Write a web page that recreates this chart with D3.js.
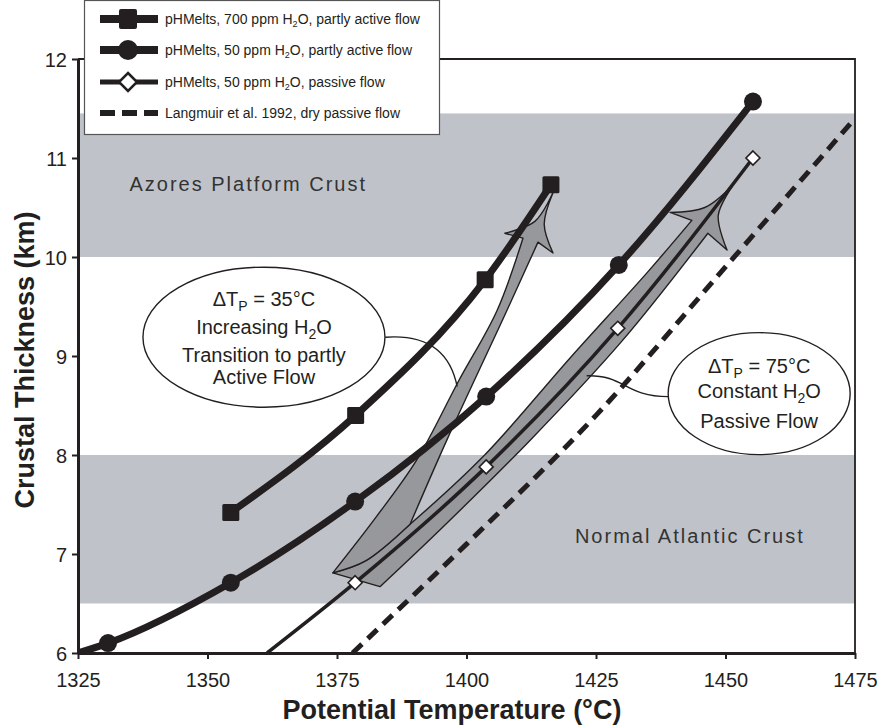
<!DOCTYPE html>
<html><head><meta charset="utf-8">
<script src="https://cdn.jsdelivr.net/npm/d3@7"></script>
<style>body{margin:0;background:#fff} svg{display:block}</style>
</head><body><svg id="c" width="880" height="728"></svg>
<script>
// ---------- data ----------
const xTicks = [1325, 1350, 1375, 1400, 1425, 1450, 1475];
const yTicks = [6, 7, 8, 9, 10, 11, 12];
// pHMelts 700 ppm H2O, partly active flow (squares)
const s700T = [1354.5, 1378.6, 1403.6, 1416.3];
const s700V = [7.42, 8.40, 9.77, 10.73];
// pHMelts 50 ppm H2O, partly active flow (circles) - first point is curve start, no marker
const s50aT = [1325, 1330.8, 1354.5, 1378.5, 1403.8, 1429.4, 1455.3];
const s50aV = [6.00, 6.10, 6.71, 7.53, 8.59, 9.92, 11.57];
// pHMelts 50 ppm H2O, passive flow (open diamonds) - first point is curve start, no marker
const s50pT = [1361.5, 1378.5, 1403.8, 1429.2, 1455.3];
const s50pV = [6.00, 6.71, 7.88, 9.28, 11.00];
// Langmuir et al. 1992, dry passive flow (dashed)
const langT = [1378, 1400, 1425, 1450, 1475];
const langV = [6.0, 7.1, 8.4, 9.9, 11.4];
// crust bands
const bandLo = [10, 6.5];
const bandHi = [11.45, 8];
const bandLabels = ["Azores Platform Crust", "Normal Atlantic Crust"];
const legendLabels = [
  ["pHMelts, 700 ppm H", "2", "O, partly active flow"],
  ["pHMelts, 50 ppm H", "2", "O, partly active flow"],
  ["pHMelts, 50 ppm H", "2", "O, passive flow"],
  ["Langmuir et al. 1992, dry passive flow", "", ""]
];

// ---------- setup ----------
const svg = d3.select("#c");
const L = 78, R = 855, T = 59, B = 653;
const x = d3.scaleLinear([1325, 1475], [L, R]);
const y = d3.scaleLinear([6, 12], [B, T]);
const FONT = "'Liberation Sans', Arial, Helvetica, sans-serif";
const INK = "#231f20";
const BAND = "#bfc3c9";
const ARROW = "#97989b";

svg.append("defs").append("clipPath").attr("id", "plot")
  .append("rect").attr("x", L).attr("y", T).attr("width", R - L).attr("height", B - T);

// bands
svg.append("g").selectAll("rect").data(bandLo).join("rect")
  .attr("x", L).attr("width", R - L)
  .attr("y", (d, i) => y(bandHi[i]))
  .attr("height", (d, i) => y(d) - y(bandHi[i]))
  .attr("fill", BAND);

// band labels
svg.append("text").attr("x", x(1380.8)).attr("y", y(10.67))
  .attr("text-anchor", "end").attr("font-family", FONT).attr("font-size", 20)
  .attr("letter-spacing", 2).attr("fill", "#333").text(bandLabels[0]);
svg.append("text").attr("x", x(1465.3)).attr("y", y(7.11))
  .attr("text-anchor", "end").attr("font-family", FONT).attr("font-size", 20)
  .attr("letter-spacing", 2).attr("fill", "#333").text(bandLabels[1]);

// ---------- annotation arrows (data coordinates) ----------
const P = p => [x(p[0]), y(p[1])];
const smooth = d3.line().x(d => x(d[0])).y(d => y(d[1])).curve(d3.curveCatmullRom.alpha(0.5));
const straight = d3.line().x(d => x(d[0])).y(d => y(d[1]));
function stitch(pieces) {
  return pieces.map((s, i) => i === 0 ? s : s.replace(/^M/, "L")).join("") + "Z";
}
const arrowG = svg.append("g").attr("fill", ARROW).attr("stroke", INK)
  .attr("stroke-width", 1.4).attr("stroke-linejoin", "round");
// arrow B: constant H2O, passive flow
arrowG.append("path").attr("d", stitch([
  smooth([[1374.2, 6.81], [1380.5, 6.93], [1389.1, 7.30], [1403.5, 8.00], [1420, 8.98], [1435, 9.85], [1443.5, 10.37]]),
  straight([[1443.5, 10.37], [1439.3, 10.45]]),
  smooth([[1439.3, 10.45], [1446.0, 10.50], [1451.5, 10.73]]),
  smooth([[1451.5, 10.73], [1448.6, 10.42], [1450.3, 10.07]]),
  straight([[1450.3, 10.07], [1446.6, 10.24]]),
  smooth([[1446.6, 10.24], [1430, 9.15], [1412.3, 8.15], [1395, 7.25], [1383.3, 6.67]]),
  straight([[1383.3, 6.67], [1374.2, 6.81]])
]));
// arrow A: increasing H2O, transition to partly active flow
arrowG.append("path").attr("d", stitch([
  smooth([[1374.2, 6.81], [1382.5, 7.37], [1390.4, 7.95], [1398.5, 8.75], [1405.9, 9.46], [1410.9, 10.19]]),
  straight([[1410.9, 10.19], [1407.4, 10.24]]),
  smooth([[1407.4, 10.24], [1413.2, 10.36], [1416.7, 10.65]]),
  smooth([[1416.7, 10.65], [1415.0, 10.33], [1416.7, 10.04]]),
  straight([[1416.7, 10.04], [1413.8, 10.15]]),
  smooth([[1413.8, 10.15], [1407.8, 9.46], [1396.2, 8.15], [1389.1, 7.30]]),
  smooth([[1389.1, 7.30], [1380.5, 6.93], [1374.2, 6.81]])
]));

// connectors
const conG = svg.append("g").attr("fill", "none").attr("stroke", INK).attr("stroke-width", 1.4);
{
  const p = d3.path();
  p.moveTo(...P([1384.3, 9.19]));
  p.bezierCurveTo(...P([1392.0, 9.22]), ...P([1396.8, 9.06]), ...P([1398.2, 8.69]));
  conG.append("path").attr("d", p.toString());
  const q = d3.path();
  q.moveTo(...P([1423.2, 8.80]));
  q.bezierCurveTo(...P([1430.6, 8.81]), ...P([1430.6, 8.59]), ...P([1438.9, 8.59]));
  conG.append("path").attr("d", q.toString());
}

// ---------- data lines ----------
const lineGen = d3.line().x(d => x(d[0])).y(d => y(d[1])).curve(d3.curveMonotoneX);
const zip = (a, b) => a.map((v, i) => [v, b[i]]);
const dataG = svg.append("g").attr("clip-path", "url(#plot)");
dataG.append("path").attr("d", lineGen(zip(langT, langV))).attr("fill", "none")
  .attr("stroke", INK).attr("stroke-width", 5).attr("stroke-dasharray", "13,8");
dataG.append("path").attr("d", lineGen(zip(s50pT, s50pV))).attr("fill", "none")
  .attr("stroke", INK).attr("stroke-width", 3.5);
dataG.append("path").attr("d", lineGen(zip(s50aT, s50aV))).attr("fill", "none")
  .attr("stroke", INK).attr("stroke-width", 7).attr("stroke-linecap", "round");
dataG.append("path").attr("d", lineGen(zip(s700T, s700V))).attr("fill", "none")
  .attr("stroke", INK).attr("stroke-width", 7);

// markers
svg.append("g").selectAll("rect").data(zip(s700T, s700V)).join("rect")
  .attr("x", d => x(d[0]) - 8.5).attr("y", d => y(d[1]) - 8.5)
  .attr("width", 17).attr("height", 17).attr("rx", 1.5).attr("fill", INK);
svg.append("g").selectAll("circle").data(zip(s50aT, s50aV).slice(1)).join("circle")
  .attr("cx", d => x(d[0])).attr("cy", d => y(d[1])).attr("r", 9).attr("fill", INK);
svg.append("g").selectAll("path").data(zip(s50pT, s50pV).slice(1)).join("path")
  .attr("transform", d => `translate(${x(d[0])},${y(d[1])})`)
  .attr("d", "M0,-7L7,0L0,7L-7,0Z").attr("fill", "#fff")
  .attr("stroke", INK).attr("stroke-width", 1.6);

// ---------- callout ellipses ----------
function callout(cx, cy, rx, ry, lines) {
  const g = svg.append("g");
  g.append("ellipse").attr("cx", x(cx)).attr("cy", y(cy)).attr("rx", rx).attr("ry", ry)
    .attr("fill", "#fff").attr("stroke", INK).attr("stroke-width", 1.4);
  lines.forEach(l => {
    const t = g.append("text").attr("x", x(cx)).attr("y", y(cy) + l.dy)
      .attr("text-anchor", "middle").attr("font-family", FONT).attr("font-size", 20).attr("fill", INK);
    l.parts.forEach((s, i) => {
      if (i % 2 === 0) t.append("tspan").attr("dy", i > 0 ? -5 : null).text(s);
      else t.append("tspan").attr("font-size", 14).attr("dy", 5).text(s);
    });
  });
}
callout(1360.9, 9.19, 121, 70, [
  {dy: -31, parts: ["\u0394T", "P", " = 35\u00B0C"]},
  {dy: -3, parts: ["Increasing H", "2", "O"]},
  {dy: 25, parts: ["Transition to partly"]},
  {dy: 47, parts: ["Active Flow"]}
]);
callout(1456.5, 8.62, 91, 61, [
  {dy: -21, parts: ["\u0394T", "P", " = 75\u00B0C"]},
  {dy: 4, parts: ["Constant H", "2", "O"]},
  {dy: 34, parts: ["Passive Flow"]}
]);

// ---------- frame & axes ----------
svg.append("path").attr("d", `M${L},${T}H${R}V${B}`).attr("fill", "none")
  .attr("stroke", INK).attr("stroke-width", 1.8);
const xAxis = svg.append("g").attr("transform", `translate(0,${B})`)
  .call(d3.axisBottom(x).tickValues(xTicks).tickFormat(d3.format("d")).tickSize(6).tickSizeOuter(0).tickPadding(10));
const yAxis = svg.append("g").attr("transform", `translate(${L},0)`)
  .call(d3.axisLeft(y).tickValues(yTicks).tickFormat(d3.format("d")).tickSize(6).tickSizeOuter(0).tickPadding(5));
[xAxis, yAxis].forEach(a => {
  a.select(".domain").attr("stroke", INK).attr("stroke-width", 3);
  a.selectAll(".tick line").attr("stroke", INK).attr("stroke-width", 2);
  a.selectAll(".tick text").attr("font-family", FONT).attr("font-size", 20).attr("fill", INK);
});
xAxis.selectAll(".tick text").attr("dy", "0.9em");
yAxis.selectAll(".tick text").attr("dy", "0.36em");

svg.append("text").attr("x", 452).attr("y", 719).attr("text-anchor", "middle")
  .attr("font-family", FONT).attr("font-weight", "bold").attr("font-size", 27).attr("fill", INK)
  .text("Potential Temperature (\u00B0C)");
svg.append("text").attr("transform", `translate(34,${(T + B) / 2 + 4}) rotate(-90)`).attr("text-anchor", "middle")
  .attr("font-family", FONT).attr("font-weight", "bold").attr("font-size", 27).attr("fill", INK)
  .text("Crustal Thickness (km)");

// ---------- legend ----------
const lg = svg.append("g");
lg.append("rect").attr("x", 84.5).attr("y", 0.5).attr("width", 355).attr("height", 134)
  .attr("fill", "#fff").attr("stroke", "#555").attr("stroke-width", 1.2);
const rowY = [19, 50, 82, 113];
const sx0 = 100, sx1 = 158, sxm = 128;
rowY.forEach((ry, i) => {
  if (i < 3) {
    lg.append("line").attr("x1", sx0).attr("x2", sx1).attr("y1", ry).attr("y2", ry)
      .attr("stroke", INK).attr("stroke-width", i < 2 ? 8 : 5);
  } else {
    lg.append("line").attr("x1", sx0).attr("x2", sx1).attr("y1", ry).attr("y2", ry)
      .attr("stroke", INK).attr("stroke-width", 6).attr("stroke-dasharray", "15,7");
  }
  if (i === 0) lg.append("rect").attr("x", sxm - 9).attr("y", ry - 10).attr("width", 18).attr("height", 20).attr("rx", 2).attr("fill", INK);
  if (i === 1) lg.append("circle").attr("cx", sxm).attr("cy", ry).attr("r", 10).attr("fill", INK);
  if (i === 2) lg.append("path").attr("transform", `translate(${sxm},${ry})`).attr("d", "M0,-9L9,0L0,9L-9,0Z")
    .attr("fill", "#fff").attr("stroke", INK).attr("stroke-width", 2.5);
  const t = lg.append("text").attr("x", 165).attr("y", ry + 5).attr("font-family", FONT)
    .attr("font-size", 14).attr("fill", INK);
  const parts = legendLabels[i];
  t.append("tspan").text(parts[0]);
  if (parts[1]) {
    t.append("tspan").attr("font-size", 9).attr("dy", 3).text(parts[1]);
    t.append("tspan").attr("dy", -3).text(parts[2]);
  }
});
</script>
</body></html>
